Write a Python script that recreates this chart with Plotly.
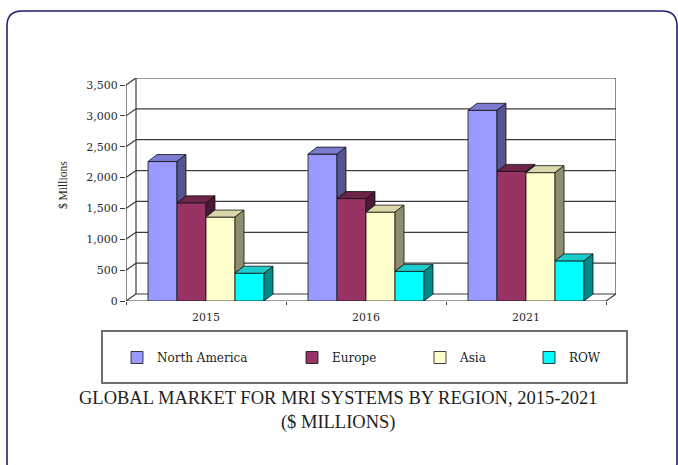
import plotly.graph_objects as go

# ---------------- data ----------------
years = ["2015", "2016", "2021"]
north_america = [2260, 2380, 3090]
europe = [1590, 1660, 2100]
asia = [1360, 1440, 2080]
row = [450, 480, 650]
series_names = ["North America", "Europe", "Asia", "ROW"]
y_ticks = [0, 500, 1000, 1500, 2000, 2500, 3000, 3500]

series_values = [north_america, europe, asia, row]
front_colors = ["#9999FF", "#993366", "#FFFFCC", "#00FFFF"]
top_colors = ["#7b7bd0", "#6e2447", "#d8d8a8", "#1ccccc"]
side_colors = ["#55558f", "#4d1a33", "#8e8e6c", "#008b8b"]

# ---------------- geometry (pixels) ----------------
W, H = 678, 465
L, R_EDGE, T, B_EDGE = 126, 616, 78, 301
PX_PER_X = 160.0
Y_MAX = 3500
PX_PER_Y = 216.0 / Y_MAX
WALL_DX = 10 / PX_PER_X
WALL_DY = 7 / PX_PER_Y
BAR_DX = 9 / PX_PER_X
BAR_DY = 7 / PX_PER_Y
GROUP_W = 0.725
BW = GROUP_W / len(series_names)
LEGEND_X_PX = [117, 292, 420, 529]
LEGEND_Y_PX = 357.5


def pxx(px):
    return (px - L) / (R_EDGE - L)


def pxy(py):
    return (B_EDGE - py) / (B_EDGE - T)


SERIF = "Liberation Serif"
WIDE = "DejaVu Serif"
xpos = list(range(len(years)))
legend_ids = ["legend", "legend2", "legend3", "legend4"]

fig = go.Figure()

# front faces
for k, (name, vals) in enumerate(zip(series_names, series_values)):
    fig.add_trace(go.Bar(
        x=xpos, y=vals, name=name, width=BW, offset=-GROUP_W / 2 + k * BW,
        marker=dict(color=front_colors[k], line=dict(color="#111111", width=0.8)),
        hoverinfo="skip", legend=legend_ids[k],
    ))

# top and side faces (computed from the data)
for k, vals in enumerate(series_values):
    tx, ty, sx, sy = [], [], [], []
    for i, v in enumerate(vals):
        x0 = i - GROUP_W / 2 + k * BW
        x1 = x0 + BW
        tx += [x0, x1, x1 + BAR_DX, x0 + BAR_DX, x0, None]
        ty += [v, v, v + BAR_DY, v + BAR_DY, v, None]
        vn = series_values[k + 1][i] if k + 1 < len(series_values) else 0
        if v > vn:
            sx += [x1, x1, x1 + BAR_DX, x1 + BAR_DX, x1, None]
            sy += [vn, v, v + BAR_DY, vn + BAR_DY, vn, None]
    fig.add_trace(go.Scatter(x=tx, y=ty, mode="lines", fill="toself",
                             fillcolor=top_colors[k],
                             line=dict(color="#111111", width=0.8),
                             showlegend=False, hoverinfo="skip"))
    fig.add_trace(go.Scatter(x=sx, y=sy, mode="lines", fill="toself",
                             fillcolor=side_colors[k],
                             line=dict(color="#111111", width=0.8),
                             showlegend=False, hoverinfo="skip"))

shapes = []
GRID = dict(color="#3c3c3c", width=1.2)
xl, xr = -0.5, len(years) - 0.5
for v in y_ticks:
    shapes.append(dict(type="line", xref="x", yref="y", layer="below",
                       x0=xl + WALL_DX, x1=xr + WALL_DX, y0=v + WALL_DY, y1=v + WALL_DY, line=GRID))
    shapes.append(dict(type="line", xref="x", yref="y", layer="below",
                       x0=xl, x1=xl + WALL_DX, y0=v, y1=v + WALL_DY, line=GRID))
for (a, b, c, d) in [
    (xl + WALL_DX, xl + WALL_DX, WALL_DY, Y_MAX + WALL_DY),
    (xr + WALL_DX, xr + WALL_DX, WALL_DY, Y_MAX + WALL_DY),
    (xl, xr, 0, 0),
    (xr, xr + WALL_DX, 0, WALL_DY),
    (xl, xl, 0, Y_MAX),
]:
    shapes.append(dict(type="line", xref="x", yref="y", layer="below",
                       x0=a, x1=b, y0=c, y1=d, line=GRID))

# legend box
shapes.append(dict(type="rect", xref="paper", yref="paper",
                   x0=pxx(102), x1=pxx(627), y0=pxy(383), y1=pxy(331),
                   line=dict(color="#6e6e6e", width=2)))

# outer rounded frame
x0, x1, y0, y1, r = 7, 677, 11, 478, 15


def P(px, py):
    return f"{pxx(px):.5f},{pxy(py):.5f}"


path = (f"M{P(x0 + r, y0)} L{P(x1 - r, y0)} Q{P(x1, y0)} {P(x1, y0 + r)} "
        f"L{P(x1, y1 - r)} Q{P(x1, y1)} {P(x1 - r, y1)} L{P(x0 + r, y1)} "
        f"Q{P(x0, y1)} {P(x0, y1 - r)} L{P(x0, y0 + r)} Q{P(x0, y0)} {P(x0 + r, y0)} Z")
shapes.append(dict(type="path", xref="paper", yref="paper", path=path,
                   line=dict(color="#1d1d70", width=1.6)))

legend_common = dict(orientation="h", xanchor="left", y=pxy(LEGEND_Y_PX), yanchor="middle",
                     font=dict(family=WIDE, size=12, color="#222222"),
                     bgcolor="rgba(0,0,0,0)", borderwidth=0, itemwidth=30)
legends = {lid: dict(x=pxx(LEGEND_X_PX[k]), **legend_common) for k, lid in enumerate(legend_ids)}

fig.update_layout(
    width=W, height=H,
    margin=dict(l=L, r=W - R_EDGE, t=T, b=H - B_EDGE, pad=0),
    paper_bgcolor="white", plot_bgcolor="white",
    barmode="overlay",
    shapes=shapes,
    showlegend=True,
    font=dict(family=SERIF, color="#222222"),
    annotations=[
        dict(text="GLOBAL MARKET FOR MRI SYSTEMS BY REGION, 2015-2021<br>($ MILLIONS)",
             xref="paper", yref="paper", x=pxx(338), y=pxy(386), xanchor="center", yanchor="top",
             showarrow=False, font=dict(family=SERIF, size=18.5, color="#1e1e1e")),
        dict(text="$ Millions", xref="paper", yref="paper", x=pxx(63), y=pxy(185),
             textangle=-90, showarrow=False, xanchor="center", yanchor="middle",
             font=dict(family=SERIF, size=11.5, color="#222222")),
    ],
    **legends,
)
fig.update_xaxes(range=[xl, xr + WALL_DX], tickmode="array", tickvals=xpos, ticktext=years,
                 showgrid=False, zeroline=False, showline=False, ticks="",
                 ticklabelstandoff=8,
                 minor=dict(tickmode="linear", tick0=-0.5, dtick=1, ticks="outside",
                            ticklen=3, tickcolor="#3c3c3c", showgrid=False),
                 tickfont=dict(family=WIDE, size=11, color="#2a2a2a"), fixedrange=True)
fig.update_yaxes(range=[0, Y_MAX + WALL_DY], tickmode="array", tickvals=y_ticks,
                 tickformat=",", showgrid=False, zeroline=False, showline=False,
                 ticks="outside", ticklen=5, tickcolor="#3c3c3c", tickwidth=1.2,
                 tickfont=dict(family=WIDE, size=11, color="#2a2a2a"), fixedrange=True)

fig.write_html("out.html", config={"displayModeBar": False},
               post_script="document.body.style.margin='0';")
